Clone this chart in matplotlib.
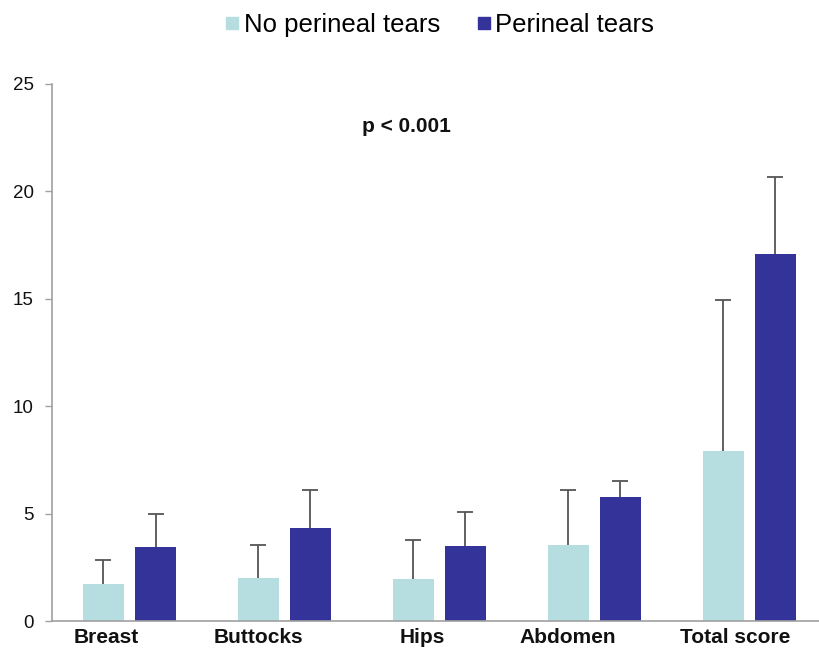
import matplotlib
matplotlib.use("Agg")
import matplotlib.pyplot as plt
from matplotlib import font_manager
from matplotlib.lines import Line2D
import numpy as np

# Data
categories = ["Breast", "Buttocks", "Hips", "Abdomen", "Total score"]
no_tears_mean = [1.72, 2.00, 1.96, 3.54, 7.91]
no_tears_sd = [1.12, 1.55, 1.82, 2.54, 7.03]
tears_mean = [3.45, 4.33, 3.49, 5.77, 17.08]
tears_sd = [1.55, 1.76, 1.58, 0.77, 3.59]
series_names = ["No perineal tears", "Perineal tears"]
y_ticks = [0, 5, 10, 15, 20, 25]
p_text = "p < 0.001"

# Styling
light = "#B6DEE1"
dark = "#333399"
err_color = "#555555"
available = {f.name for f in font_manager.fontManager.ttflist}
base_font = "Liberation Sans" if "Liberation Sans" in available else "DejaVu Sans"
plt.rcParams["font.family"] = [base_font, "DejaVu Sans"]

fig = plt.figure(figsize=(8.19, 6.51), dpi=100)
ax = fig.add_axes([0.0635, 0.046, 0.9365, 0.825])

x = np.arange(len(categories))
w = 0.265
off = 0.168
ax.bar(x - off, no_tears_mean, w, color=light, zorder=2)
ax.bar(x + off, tears_mean, w, color=dark, zorder=2)


def upper_errorbars(xs, means, sds):
    # one-sided (upward) error bars: hide the cap drawn at the bar top
    cont = ax.errorbar(xs, means, yerr=[np.zeros(len(xs)), sds],
                       fmt="none", ecolor=err_color, elinewidth=1.3,
                       capsize=6, capthick=1.3, zorder=1)
    caps = cont.lines[1]
    if len(caps) >= 2:
        caps[0].set_visible(False)


upper_errorbars(x - off, no_tears_mean, no_tears_sd)
upper_errorbars(x + off, tears_mean, tears_sd)

ax.set_xlim(-0.5, 4.45)
ax.set_ylim(0, 25)
ax.set_yticks(y_ticks)
ax.set_yticklabels([str(t) for t in y_ticks], fontsize=13.5, color="#111111")
ax.tick_params(axis="y", length=5, width=1, color="#A0A0A0", pad=8)

# category labels sit slightly left of each pair
label_shift = [-0.15, -0.17, -0.11, -0.17, -0.09]
ax.set_xticks(x + np.array(label_shift))
ax.set_xticklabels(categories, fontsize=15, fontweight="bold", color="#111111")
ax.tick_params(axis="x", length=0, pad=5)

for s in ["top", "right"]:
    ax.spines[s].set_visible(False)
for s in ["left", "bottom"]:
    ax.spines[s].set_color("#A0A0A0")
    ax.spines[s].set_linewidth(1.2)

fig.text(0.442, 0.806, p_text, ha="left", va="center",
         fontsize=15, fontweight="bold", color="#111111")

handles = [Line2D([], [], marker="s", linestyle="none", markersize=8.5,
                  markerfacecolor=c, markeredgecolor=c) for c in (light, dark)]
fig.legend(handles, series_names, loc="center", bbox_to_anchor=(0.535, 0.961),
           ncol=2, frameon=False, handletextpad=0.05, columnspacing=1.3,
           handlelength=0.8, prop={"size": 18.5})

fig.savefig("out.png", dpi=100, facecolor="white")
